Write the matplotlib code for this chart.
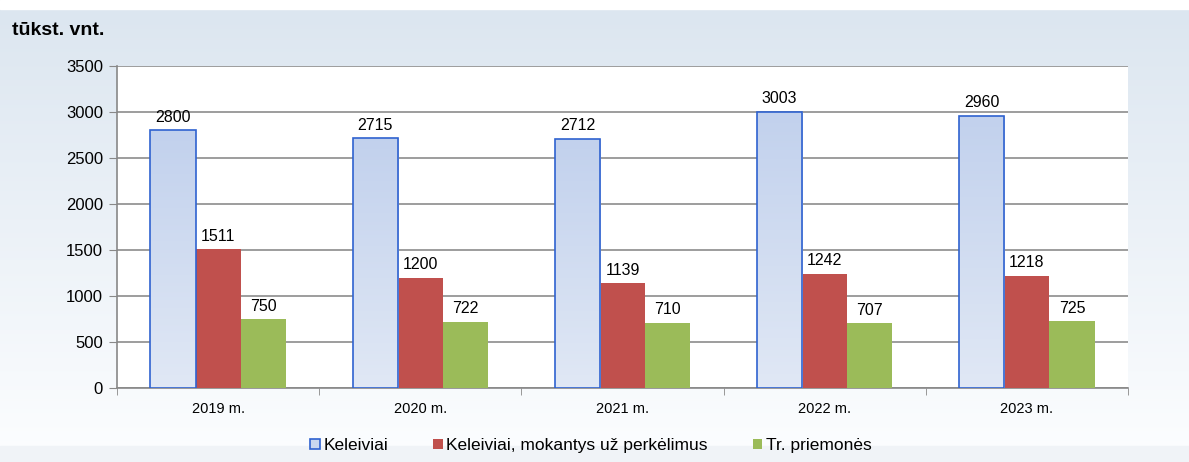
import numpy as np
import matplotlib.pyplot as plt
from matplotlib.patches import Patch

years = ["2019 m.", "2020 m.", "2021 m.", "2022 m.", "2023 m."]
keleiviai = [2800, 2715, 2712, 3003, 2960]
perkelimai = [1511, 1200, 1139, 1242, 1218]
priemones = [750, 722, 710, 707, 725]
series_names = ["Keleiviai", "Keleiviai, mokantys už perkėlimus", "Tr. priemonės"]

plt.rcParams['font.family'] = ['Liberation Sans', 'DejaVu Sans']

fig = plt.figure(figsize=(11.89, 4.62), dpi=100)

# background gradient
bg = fig.add_axes([0, 0, 1, 1], zorder=-10)
grad = np.linspace(0, 1, 256).reshape(-1, 1)
top = np.array([0.86, 0.90, 0.94])
bot = np.array([0.99, 0.995, 1.0])
img = top * (1 - grad[..., None]) + bot * grad[..., None]
img = np.repeat(img, 2, axis=1)
bg.imshow(img, aspect='auto', extent=[0, 1, 0, 1])
bg.axhspan(0.98, 1, color='white')
bg.axhspan(0, 0.035, color='#f0f3f7')
bg.set_xlim(0, 1)
bg.set_ylim(0, 1)
bg.axis('off')

ax = fig.add_axes([0.0984, 0.16, 0.8503, 0.697])
ax.set_facecolor('white')

x = np.arange(len(years))
w = 0.223
b1 = ax.bar(x - w, keleiviai, w, color='#c9d7ef', edgecolor='#2f62d0', linewidth=1.2, zorder=3)
b2 = ax.bar(x, perkelimai, w, color='#c0504d', zorder=3)
b3 = ax.bar(x + w, priemones, w, color='#9bbb59', zorder=3)

# vertical gradient inside the blue bars
bgrad = np.linspace(0, 1, 100).reshape(-1, 1)
c_top = np.array([0.76, 0.82, 0.93])
c_bot = np.array([0.88, 0.91, 0.96])
bimg = c_top * (1 - bgrad[..., None]) + c_bot * bgrad[..., None]
for r in b1:
    bx, by = r.get_x(), r.get_y()
    im = ax.imshow(bimg, aspect='auto', extent=[bx, bx + r.get_width(), by, by + r.get_height()],
                   zorder=3.5)
    im.set_clip_path(r)
for r in b1:
    r.set_zorder(4)
    r.set_facecolor('none')

for bars, vals in [(b1, keleiviai), (b2, perkelimai), (b3, priemones)]:
    for r, v in zip(bars, vals):
        ax.text(r.get_x() + r.get_width() / 2, v + 60, str(v), ha='center', va='bottom',
                fontsize=11.5, color='black', zorder=5)

ax.set_xlim(-0.5, len(years) - 0.5)
ax.set_ylim(0, 3500)
ax.set_yticks(np.arange(0, 3501, 500))
ax.tick_params(axis='y', labelsize=12, length=6, color='#888888', pad=4)
ax.yaxis.grid(True, color='#8c8c8c', linewidth=1.2, zorder=0)
ax.set_axisbelow(True)

ax.set_xticks(x)
ax.set_xticklabels(years, fontsize=10.5)
ax.tick_params(axis='x', length=0, pad=10)
ax.set_xticks(np.arange(-0.5, len(years)), minor=True)
ax.tick_params(axis='x', which='minor', length=5, color='#888888')

for s in ['top', 'right']:
    ax.spines[s].set_visible(False)
ax.spines['left'].set_color('#888888')
ax.spines['bottom'].set_color('#888888')
ax.spines['left'].set_linewidth(1.2)
ax.spines['bottom'].set_linewidth(1.2)

fig.text(0.010, 0.935, "tūkst. vnt.", fontsize=14, fontweight='bold', ha='left', va='center')

handles = [Patch(facecolor='#c9d7ef', edgecolor='#2f62d0', linewidth=1.2),
           Patch(facecolor='#c0504d'),
           Patch(facecolor='#9bbb59')]
fig.legend(handles, series_names, loc='center', bbox_to_anchor=(0.497, 0.035), ncol=3,
           frameon=False, fontsize=12.5, handlelength=0.55, handleheight=0.55,
           handletextpad=0.2, columnspacing=2.6)

fig.savefig('out.png', dpi=100)
